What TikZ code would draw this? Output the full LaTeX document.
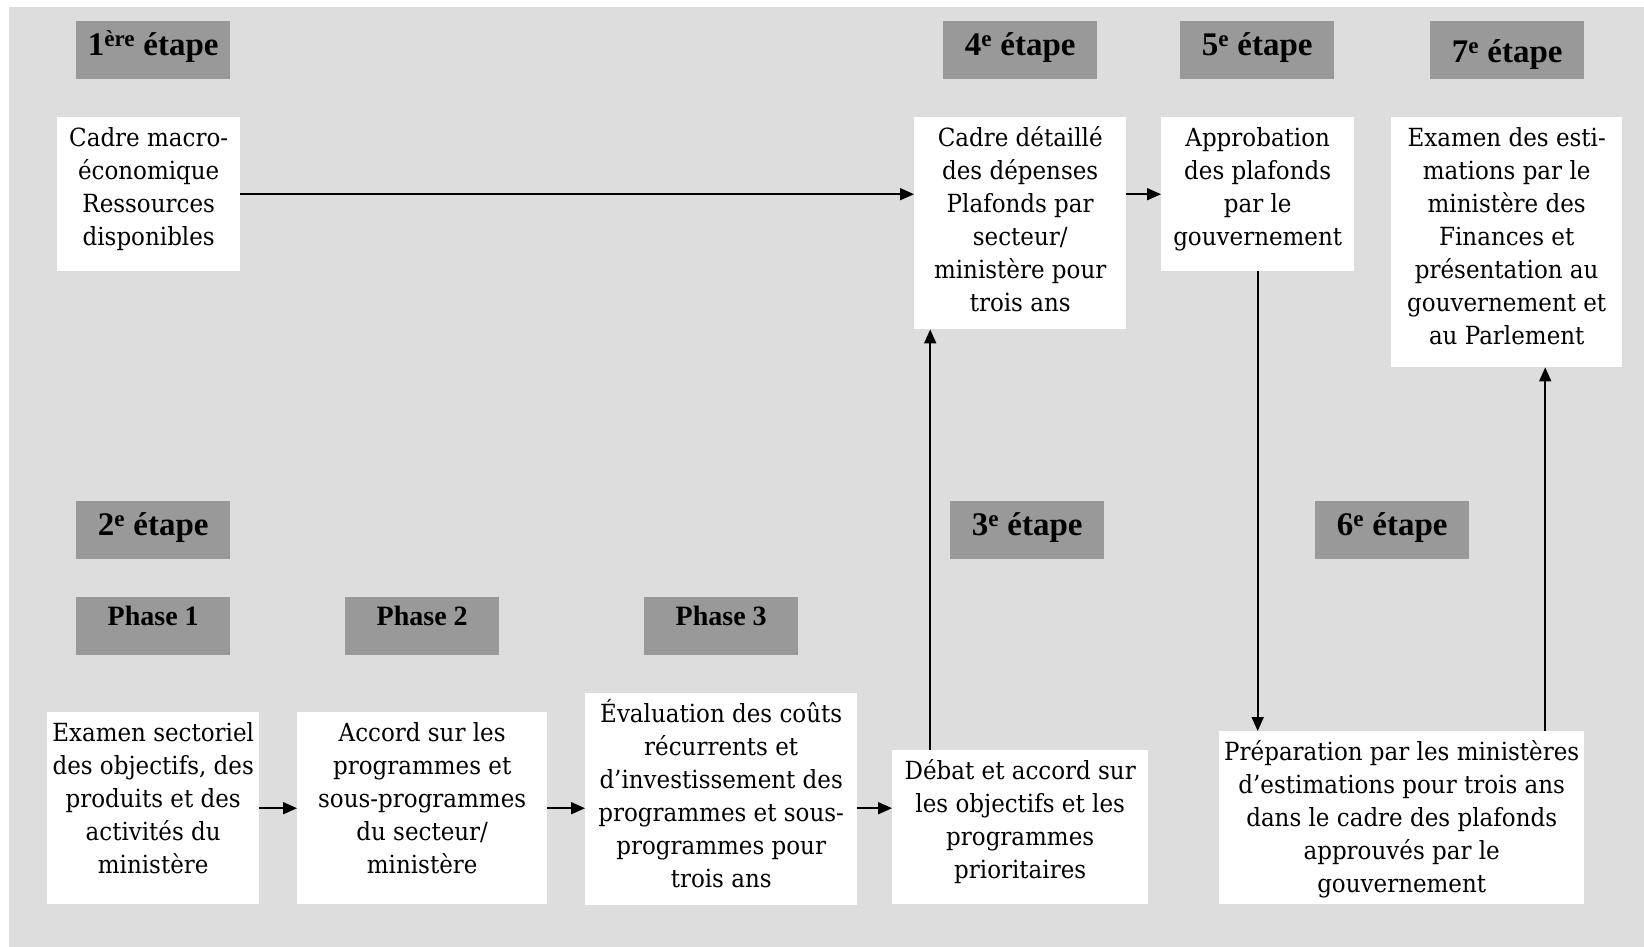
\documentclass[tikz,border=0pt]{standalone}
\usepackage{fontspec}
\setmainfont{DejaVu Serif}[FakeStretch=0.92]
\newfontfamily\hdrfamily{Liberation Serif}
\usetikzlibrary{arrows.meta}
\definecolor{bggray}{RGB}{221,221,221}
\definecolor{hdrgray}{RGB}{153,153,153}
\newcommand{\wtext}[3]{\parbox[c][#2][t]{#1}{\centering\rule{0pt}{29.5pt}#3}}
\begin{document}
\begin{tikzpicture}[x=1pt,y=-1pt,
  hdrbox/.style={fill=hdrgray, inner sep=0pt, anchor=north west,
    minimum width=154pt, minimum height=58pt, text height=34pt, text depth=24pt,
    font=\hdrfamily\bfseries\fontsize{33pt}{36pt}\selectfont},
  phasebox/.style={hdrbox, text height=28pt, text depth=30pt,
    font=\hdrfamily\bfseries\fontsize{28pt}{30pt}\selectfont},
  wbox/.style={fill=white, inner sep=0pt, anchor=north west,
    font=\fontsize{25pt}{33pt}\selectfont},
  arr/.style={line width=1.8pt, -{Triangle[length=14pt,width=12pt]}}]
\useasboundingbox (0,0) rectangle (1644,947);
\fill[bggray] (9,7) rectangle (1644,947);
% stage headers
\node[hdrbox] (e1) at (76,21) {1\textsuperscript{ère} étape};
\node[hdrbox] (e4) at (943,21) {4\textsuperscript{e} étape};
\node[hdrbox] (e5) at (1180,21) {5\textsuperscript{e} étape};
\node[hdrbox, text height=41pt, text depth=17pt] (e7) at (1430,21) {7\textsuperscript{e} étape};
\node[hdrbox] (e2) at (76,501) {2\textsuperscript{e} étape};
\node[hdrbox] (e3) at (950,501) {3\textsuperscript{e} étape};
\node[hdrbox] (e6) at (1315,501) {6\textsuperscript{e} étape};
\node[phasebox] (p1) at (76,597) {Phase 1};
\node[phasebox] (p2) at (345,597) {Phase 2};
\node[phasebox] (p3) at (644,597) {Phase 3};
% white boxes
\node[wbox] (macro) at (57,117) {\wtext{183pt}{154pt}{Cadre macro-\\économique\\Ressources\\disponibles}};
\node[wbox] (detail) at (914,117) {\wtext{212pt}{212pt}{Cadre détaillé\\des dépenses\\Plafonds par\\secteur/\\ministère pour\\trois ans}};
\node[wbox] (approb) at (1161,117) {\wtext{193pt}{154pt}{Approbation\\des plafonds\\par le\\gouvernement}};
\node[wbox] (examen) at (1391,117) {\wtext{231pt}{250pt}{Examen des esti-\\mations par le\\ministère des\\Finances et\\présentation au\\gouvernement et\\au Parlement}};
\node[wbox] (sect) at (47,712) {\wtext{212pt}{192pt}{Examen sectoriel\\des objectifs, des\\produits et des\\activités du\\ministère}};
\node[wbox] (accord) at (297,712) {\wtext{250pt}{192pt}{Accord sur les\\programmes et\\sous-programmes\\du secteur/\\ministère}};
\node[wbox] (eval) at (585,693) {\wtext{272pt}{212pt}{Évaluation des coûts\\récurrents et\\d’investissement des\\programmes et sous-\\programmes pour\\trois ans}};
\node[wbox] (debat) at (892,750) {\wtext{256pt}{154pt}{Débat et accord sur\\les objectifs et les\\programmes\\prioritaires}};
\node[wbox] (prep) at (1219,731) {\wtext{365pt}{173pt}{Préparation par les ministères\\d’estimations pour trois ans\\dans le cadre des plafonds\\approuvés par le\\gouvernement}};
% connectors
\draw[arr] (macro.east) -- (macro.east -| detail.west);
\draw[arr] (detail.east |- approb.west) -- (approb.west);
\draw[arr] (approb.south) -- (approb.south |- prep.north);
\draw[arr] ([xshift=143.5pt]prep.north) -- ([xshift=143.5pt]prep.north |- examen.south);
\draw[arr] ([xshift=-90pt]debat.north) -- ([xshift=-90pt]debat.north |- detail.south);
\draw[arr] (sect.east) -- (sect.east -| accord.west);
\draw[arr] (accord.east) -- (accord.east -| eval.west);
\draw[arr] ([yshift=-9pt]eval.east) -- ([yshift=-9pt]eval.east -| debat.west);
\end{tikzpicture}
\end{document}
